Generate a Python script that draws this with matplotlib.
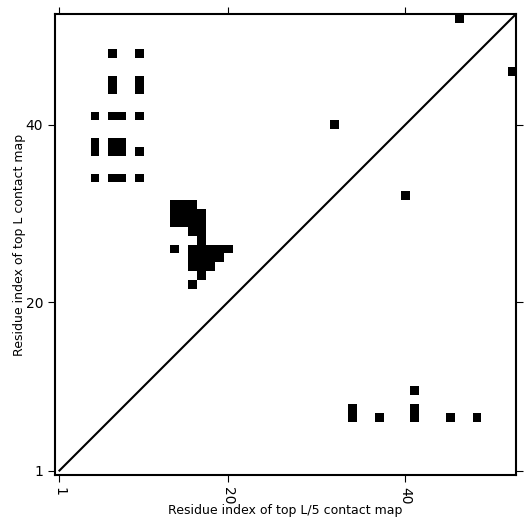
import numpy as np
import matplotlib
matplotlib.use("Agg")
import matplotlib.pyplot as plt

# Sequence length and contact positions (residue i, residue j), 1-based
L = 52

# upper-left triangle: top L contacts
top_L_i = [7, 10, 7, 7, 10, 10, 5, 7, 8, 10, 5, 5, 7, 8, 7, 8, 10, 5, 7, 8, 10,
           14, 15, 16, 14, 15, 16, 17, 14, 15, 16, 17, 16, 17, 17,
           14, 16, 17, 18, 19, 20, 16, 17, 18, 19, 16, 17, 18, 17, 16,
           32, 46]
top_L_j = [48, 48, 45, 44, 45, 44, 41, 41, 41, 41, 38, 37, 38, 38, 37, 37, 37, 34, 34, 34, 34,
           31, 31, 31, 30, 30, 30, 30, 29, 29, 29, 29, 28, 28, 27,
           26, 26, 26, 26, 26, 26, 25, 25, 25, 25, 24, 24, 24, 23, 22,
           40, 52]

# lower-right triangle: top L/5 contacts
top_L5_i = [34, 34, 37, 41, 41, 41, 45, 48, 40, 52]
top_L5_j = [8, 7, 7, 10, 8, 7, 7, 7, 32, 46]

tick_vals = [1, 20, 40]

# build the contact matrix
cmap_mat = np.zeros((L, L))
for i, j in zip(top_L_i + top_L5_i, top_L_j + top_L5_j):
    cmap_mat[j - 1, i - 1] = 1

fig = plt.figure(figsize=(5.31, 5.31), dpi=100)
ax = fig.add_axes([0.1036, 0.1055, 0.8682, 0.8681])

ax.imshow(cmap_mat, cmap="Greys", vmin=0, vmax=1, origin="lower",
          interpolation="nearest", extent=(0.5, L + 0.5, 0.5, L + 0.5), aspect="auto")
ax.plot([1, L + 0.5], [1, L + 0.5], color="black", linewidth=1.5)

ax.set_xlim(0.5, L + 0.5)
ax.set_ylim(0.5, L + 0.5)
ax.set_xticks(tick_vals)
ax.set_yticks(tick_vals)
ax.set_xticklabels([str(t) for t in tick_vals], rotation=270)
ax.tick_params(direction="out", top=True, right=True, length=5)

for s in ax.spines.values():
    s.set_linewidth(1.5)

ax.set_xlabel("Residue index of top L/5 contact map", fontsize=9, labelpad=0)
ax.set_ylabel("Residue index of top L contact map", fontsize=9, labelpad=0)

fig.savefig("out.png", dpi=100)
